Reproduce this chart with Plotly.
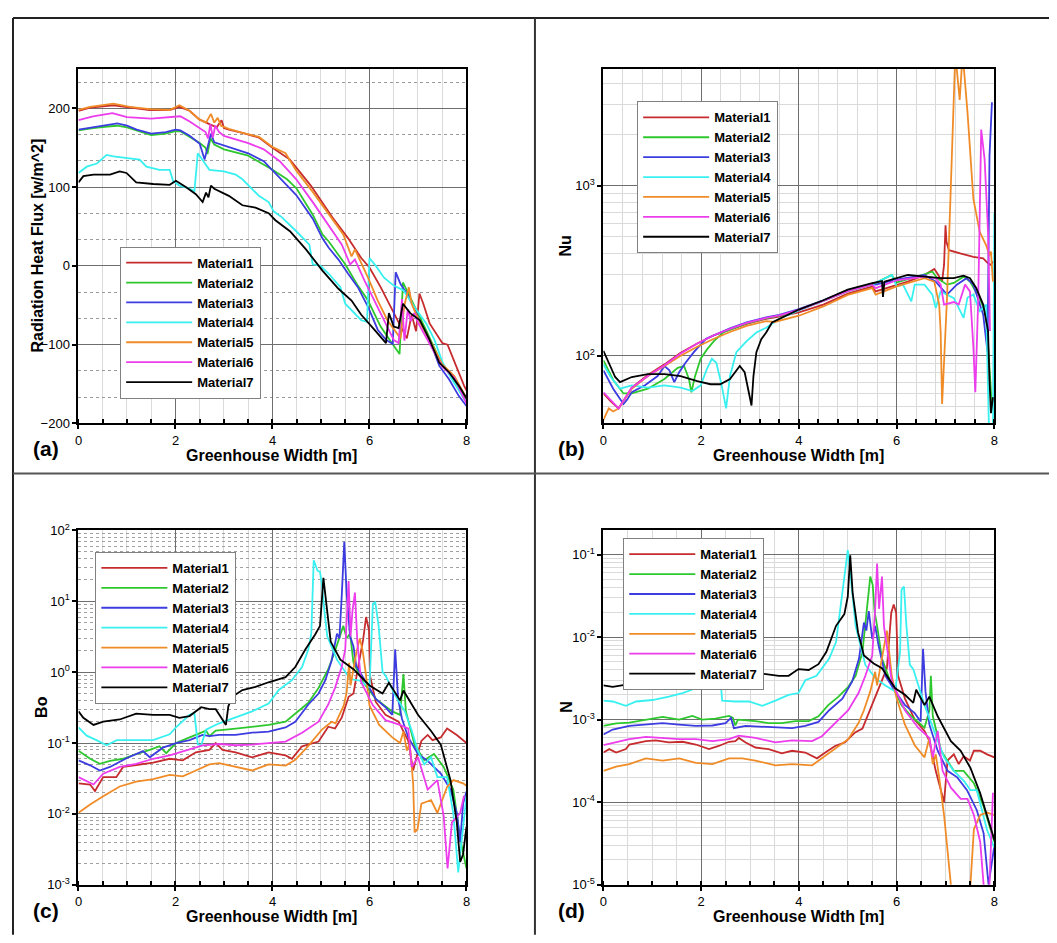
import plotly.graph_objects as go
import math

# Browser page keeps the default 8px body margin: the figure is sized to fit inside it.
PAGE_W, PAGE_H = 1057, 943
OFF = 8
FW, FH = PAGE_W - 2 * OFF, PAGE_H - 2 * OFF

materials = ["Material1", "Material2", "Material3", "Material4", "Material5", "Material6", "Material7"]
colors = ["#c62b2e", "#2ec82e", "#3c3ce0", "#38f0f0", "#f08c28", "#ec3cec", "#000000"]

# tick labels of the log axes
b_tickvals = [100, 1000]
b_ticktext = ["10<sup>2</sup>", "10<sup>3</sup>"]
c_tickvals = [0.001, 0.01, 0.1, 1, 10, 100]
c_ticktext = ["10<sup>-3</sup>", "10<sup>-2</sup>", "10<sup>-1</sup>", "10<sup>0</sup>", "10<sup>1</sup>", "10<sup>2</sup>"]
d_tickvals = [0.00001, 0.0001, 0.001, 0.01, 0.1]
d_ticktext = ["10<sup>-5</sup>", "10<sup>-4</sup>", "10<sup>-3</sup>", "10<sup>-2</sup>", "10<sup>-1</sup>"]

# ---------------- Panel (a): Radiation Heat Flux ----------------
a1_x = [0, 0.24, 0.72, 1.06, 1.47, 1.88, 2.08, 2.29, 2.49, 2.7, 2.85, 2.95, 3.0, 3.1, 3.38, 3.72, 4.0, 4.36, 4.79, 5.23, 5.56, 5.83, 6.0, 6.23, 6.5, 6.64, 6.77, 6.87, 6.96, 7.03, 7.11, 7.24, 7.5, 7.61, 7.78, 7.95, 8.0]
a1_y = [197, 201, 204, 201, 198, 198, 202, 197, 186, 180, 176, 185, 175, 173, 169, 163, 150, 135, 102, 62, 35, 10, -2, -27, -60, -75, -92, -62, -83, -35, -48, -73, -98, -100, -127, -152, -158]
a2_x = [0, 0.3, 0.6, 0.8, 1.0, 1.2, 1.5, 1.8, 2.0, 2.1, 2.3, 2.5, 2.62, 2.66, 2.72, 2.8, 3.0, 3.5, 4.0, 4.3, 4.5, 4.83, 5.03, 5.16, 5.5, 5.76, 5.97, 6.23, 6.45, 6.62, 6.69, 6.77, 6.97, 7.17, 7.5, 7.75, 8.0]
a2_y = [172, 175, 177, 178, 176, 172, 166, 168, 171, 171, 164, 156, 150, 142, 162, 154, 148, 140, 122, 110, 98, 65, 40, 31, 2, -25, -44, -77, -97, -112, -21, -31, -58, -82, -126, -145, -172]
a3_x = [0, 0.3, 0.6, 0.8, 1.0, 1.2, 1.5, 1.8, 2.0, 2.1, 2.3, 2.5, 2.6, 2.66, 2.73, 2.8, 3.0, 3.5, 3.82, 4.15, 4.49, 4.83, 5.03, 5.16, 5.36, 5.56, 5.76, 5.97, 6.17, 6.34, 6.48, 6.54, 6.64, 6.77, 6.91, 7.04, 7.24, 7.44, 7.64, 7.84, 8.0]
a3_y = [173, 176, 179, 181, 178, 173, 168, 170, 173, 172, 165, 155, 135, 150, 168, 157, 153, 143, 133, 112, 90, 60, 35, 23, 8, -10, -27, -52, -81, -94, -99, -8, -23, -35, -52, -71, -94, -127, -144, -165, -178]
a4_x = [0, 0.17, 0.38, 0.58, 0.72, 1.06, 1.26, 1.4, 1.67, 1.88, 1.95, 2.08, 2.25, 2.39, 2.46, 2.7, 3.0, 3.24, 3.38, 3.72, 3.92, 4.03, 4.19, 4.49, 4.76, 4.83, 4.99, 5.16, 5.4, 5.5, 5.63, 5.83, 5.95, 6.0, 6.13, 6.3, 6.5, 6.7, 6.97, 7.17, 7.34, 7.51, 7.7, 7.95, 8.0]
a4_y = [118, 126, 130, 141, 139, 137, 135, 126, 122, 122, 108, 102, 99, 95, 143, 122, 120, 116, 110, 89, 81, 69, 62, 44, 27, 2, 0, -10, -27, -48, -56, -69, -71, 10, 0, -15, -25, -31, -56, -73, -94, -123, -144, -169, -172]
a5_x = [0, 0.24, 0.72, 1.06, 1.47, 1.88, 2.08, 2.29, 2.49, 2.63, 2.73, 2.8, 2.87, 2.94, 3.1, 3.38, 3.72, 4.0, 4.27, 4.49, 4.83, 5.16, 5.46, 5.63, 5.7, 5.97, 6.17, 6.37, 6.57, 6.64, 6.72, 6.81, 6.87, 6.95, 7.07, 7.25, 7.5, 7.75, 8.0]
a5_y = [198, 202, 206, 202, 199, 198, 204, 197, 186, 182, 193, 182, 188, 178, 174, 169, 164, 151, 143, 121, 94, 65, 40, 12, 21, -15, -44, -69, -85, -92, -50, -27, -48, -60, -75, -95, -125, -140, -168]
a6_x = [0, 0.3, 0.7, 1.0, 1.5, 2.0, 2.1, 2.3, 2.5, 2.62, 2.67, 2.72, 2.77, 2.82, 2.9, 3.0, 3.5, 3.82, 4.15, 4.49, 4.83, 5.16, 5.43, 5.6, 5.7, 5.9, 6.1, 6.3, 6.5, 6.6, 6.67, 6.72, 6.79, 6.85, 6.92, 7.0, 7.3, 7.5, 7.75, 8.0]
a6_y = [185, 190, 194, 189, 187, 189, 190, 183, 175, 170, 162, 180, 163, 178, 170, 165, 156, 148, 133, 110, 81, 52, 27, 2, 8, -19, -44, -69, -94, -98, -42, -95, -55, -70, -60, -72, -105, -128, -142, -175]
a7_x = [0, 0.1, 0.31, 0.65, 0.85, 0.99, 1.19, 1.54, 1.88, 2.01, 2.22, 2.42, 2.56, 2.63, 2.68, 2.73, 2.8, 3.1, 3.38, 3.65, 3.92, 4.06, 4.36, 4.69, 5.03, 5.36, 5.63, 5.83, 6.1, 6.34, 6.4, 6.5, 6.6, 6.69, 6.84, 7.04, 7.24, 7.44, 7.64, 7.84, 8.0]
a7_y = [106, 114, 116, 116, 120, 118, 106, 104, 103, 108, 100, 91, 81, 93, 87, 102, 98, 89, 77, 74, 67, 58, 44, 21, -6, -29, -44, -62, -81, -98, -60, -77, -79, -48, -60, -69, -94, -123, -135, -152, -168]

# ---------------- Panel (b): Nu ----------------
b1_x = [0, 0.15, 0.31, 0.58, 0.91, 1.25, 1.58, 1.92, 2.26, 2.59, 2.93, 3.33, 3.6, 4.0, 4.5, 5.0, 5.5, 5.57, 6.0, 6.23, 6.57, 6.77, 6.83, 6.93, 6.97, 7.0, 7.02, 7.07, 7.3, 7.57, 7.77, 7.87, 7.93, 7.97]
b1_y = [60, 54, 49, 65, 77, 89, 104, 118, 132, 143, 154, 165, 170, 180, 200, 232, 255, 239, 262, 273, 299, 324, 306, 273, 342, 585, 467, 418, 400, 382, 374, 350, 342, 359]
b2_x = [0, 0.2, 0.41, 0.58, 0.91, 1.25, 1.52, 1.65, 1.75, 1.8, 1.87, 1.99, 2.12, 2.26, 2.45, 2.93, 3.33, 3.6, 4.0, 4.5, 5.0, 5.5, 5.9, 6.0, 6.57, 6.73, 6.83, 7.03, 7.17, 7.37, 7.5, 7.7, 7.83, 7.9, 7.95]
b2_y = [94, 72, 60, 60, 64, 73, 85, 87, 73, 61, 75, 96, 109, 122, 137, 155, 166, 172, 186, 210, 240, 262, 299, 270, 301, 313, 286, 262, 268, 292, 273, 218, 175, 90, 50]
b3_x = [0, 0.2, 0.41, 0.48, 0.58, 0.85, 1.11, 1.25, 1.35, 1.45, 1.55, 1.68, 1.85, 2.1, 2.59, 2.93, 3.33, 3.6, 4.0, 4.5, 5.0, 5.5, 5.57, 6.0, 6.57, 6.8, 7.03, 7.23, 7.43, 7.57, 7.77, 7.86, 7.9, 7.95]
b3_y = [82, 64, 52, 55, 61, 67, 76, 87, 82, 70, 80, 91, 105, 126, 145, 157, 168, 174, 188, 212, 243, 264, 262, 280, 299, 273, 229, 262, 286, 262, 175, 105, 1500, 3100]
b4_x = [0, 0.15, 0.34, 0.58, 0.91, 1.25, 1.58, 1.82, 1.99, 2.12, 2.22, 2.31, 2.42, 2.51, 2.59, 2.72, 2.93, 3.13, 3.33, 3.6, 4.0, 4.5, 5.0, 5.5, 5.77, 5.9, 6.0, 6.13, 6.3, 6.37, 6.57, 6.73, 6.8, 6.9, 7.17, 7.37, 7.45, 7.57, 7.7, 7.83, 7.89, 7.97, 8.0]
b4_y = [89, 75, 64, 67, 65, 67, 65, 62, 67, 84, 96, 91, 67, 49, 76, 105, 122, 137, 146, 165, 185, 210, 240, 262, 286, 299, 256, 262, 209, 262, 262, 229, 191, 239, 218, 167, 220, 229, 183, 200, 36, 36, 690]
b5_x = [0, 0.11, 0.2, 0.31, 0.58, 0.91, 1.25, 1.58, 1.92, 2.26, 2.59, 2.93, 3.33, 3.5, 4.0, 4.5, 5.0, 5.5, 5.57, 6.0, 6.57, 6.77, 6.87, 6.9, 6.93, 6.97, 7.03, 7.1, 7.2, 7.29, 7.35, 7.45, 7.57, 7.7, 7.83, 7.9, 7.93, 7.97]
b5_y = [42, 49, 47, 49, 64, 76, 87, 100, 113, 126, 138, 150, 160, 158, 172, 195, 228, 250, 229, 256, 286, 273, 200, 140, 52, 89, 218, 836, 6000, 3200, 6000, 2700, 836, 535, 447, 391, 410, 273]
b6_x = [0, 0.15, 0.31, 0.58, 0.91, 1.25, 1.58, 1.92, 2.26, 2.59, 2.93, 3.33, 3.6, 4.0, 4.5, 5.0, 5.5, 5.57, 6.0, 6.57, 6.8, 6.9, 6.97, 7.17, 7.27, 7.4, 7.5, 7.57, 7.61, 7.67, 7.73, 7.8, 7.87, 7.91]
b6_y = [61, 55, 49, 65, 76, 88, 103, 118, 132, 144, 156, 167, 173, 186, 210, 240, 262, 250, 278, 292, 286, 262, 200, 207, 200, 262, 239, 112, 61, 218, 2140, 1430, 535, 140]
b7_x = [0, 0.11, 0.24, 0.34, 0.58, 0.91, 1.25, 1.58, 1.92, 2.19, 2.39, 2.59, 2.79, 2.89, 2.98, 3.03, 3.07, 3.13, 3.23, 3.33, 3.45, 3.6, 4.0, 4.5, 5.0, 5.5, 5.7, 5.72, 5.75, 6.0, 6.23, 6.57, 6.9, 7.17, 7.37, 7.5, 7.63, 7.77, 7.87, 7.9, 7.93, 7.97]
b7_y = [107, 91, 75, 70, 75, 78, 78, 76, 71, 68, 68, 73, 87, 80, 58, 51, 76, 105, 125, 137, 157, 165, 187, 212, 245, 267, 275, 222, 273, 286, 299, 292, 286, 286, 296, 286, 250, 200, 140, 72, 46, 57]

# ---------------- Panel (c): Bo ----------------
c1_x = [0, 0.24, 0.34, 0.51, 0.78, 0.92, 1.19, 1.54, 1.88, 2.15, 2.42, 2.7, 2.83, 2.97, 3.24, 3.58, 3.92, 4.27, 4.4, 4.61, 4.95, 5.15, 5.29, 5.43, 5.57, 5.67, 5.77, 5.87, 5.93, 5.99, 6.01, 6.13, 6.33, 6.6, 6.8, 6.9, 6.97, 7.07, 7.2, 7.3, 7.47, 7.6, 7.8, 8.0]
c1_y = [0.027, 0.026, 0.021, 0.033, 0.033, 0.046, 0.049, 0.053, 0.06, 0.057, 0.074, 0.08, 0.1, 0.08, 0.074, 0.063, 0.074, 0.067, 0.06, 0.09, 0.105, 0.17, 0.16, 0.23, 0.45, 0.5, 1.23, 2.9, 6.0, 3.9, 0.9, 0.38, 0.25, 0.2, 0.107, 0.041, 0.063, 0.107, 0.13, 0.11, 0.12, 0.16, 0.13, 0.1]
c2_x = [0, 0.24, 0.44, 0.65, 0.92, 1.19, 1.47, 1.67, 1.81, 2.01, 2.29, 2.56, 2.63, 2.7, 2.83, 3.24, 3.58, 3.92, 4.27, 4.47, 4.74, 4.95, 5.15, 5.29, 5.4, 5.46, 5.53, 5.6, 5.67, 5.87, 6.13, 6.47, 6.63, 6.7, 6.75, 6.93, 7.13, 7.33, 7.53, 7.73, 7.87, 8.0]
c2_y = [0.078, 0.06, 0.051, 0.056, 0.06, 0.07, 0.08, 0.09, 0.072, 0.1, 0.12, 0.145, 0.15, 0.125, 0.15, 0.16, 0.17, 0.18, 0.2, 0.26, 0.37, 0.6, 1.1, 2.0, 3.5, 4.5, 3.0, 3.5, 1.36, 0.72, 0.42, 0.28, 0.25, 0.94, 0.28, 0.095, 0.057, 0.07, 0.046, 0.022, 0.0045, 0.0017]
c3_x = [0, 0.24, 0.44, 0.65, 0.99, 1.33, 1.47, 1.74, 2.01, 2.29, 2.56, 2.7, 2.9, 3.24, 3.58, 3.92, 4.27, 4.47, 4.74, 4.95, 5.09, 5.22, 5.33, 5.38, 5.43, 5.48, 5.53, 5.6, 5.67, 5.73, 5.93, 6.13, 6.33, 6.47, 6.53, 6.59, 6.67, 6.8, 7.0, 7.2, 7.47, 7.67, 7.8, 7.87, 7.93, 8.0]
c3_y = [0.057, 0.0485, 0.041, 0.046, 0.061, 0.077, 0.063, 0.086, 0.1, 0.11, 0.13, 0.125, 0.13, 0.13, 0.14, 0.145, 0.166, 0.2, 0.35, 0.5, 0.77, 1.46, 3.5, 3.0, 12.6, 69, 12.6, 3.2, 2.3, 1.2, 0.72, 0.42, 0.32, 0.25, 2.1, 0.42, 0.22, 0.12, 0.07, 0.056, 0.037, 0.022, 0.0103, 0.004, 0.014, 0.0207]
c4_x = [0, 0.17, 0.38, 0.58, 0.79, 1.19, 1.54, 1.88, 2.01, 2.29, 2.39, 2.46, 2.53, 2.63, 2.9, 3.24, 3.58, 3.92, 4.13, 4.4, 4.61, 4.74, 4.8, 4.85, 4.93, 4.98, 5.02, 5.07, 5.13, 5.33, 5.5, 5.6, 5.8, 6.0, 6.07, 6.12, 6.19, 6.27, 6.33, 6.53, 6.73, 6.87, 7.0, 7.13, 7.27, 7.4, 7.6, 7.73, 7.83, 7.9, 8.0]
c4_y = [0.166, 0.127, 0.109, 0.093, 0.11, 0.11, 0.11, 0.133, 0.166, 0.25, 0.265, 0.096, 0.093, 0.154, 0.19, 0.23, 0.28, 0.36, 0.56, 0.77, 1.18, 2.1, 3.5, 38, 27, 26, 17, 7.4, 3.2, 1.5, 0.99, 0.8, 0.76, 0.61, 9.2, 9.7, 4.4, 1.0, 0.9, 0.47, 0.28, 0.15, 0.077, 0.05, 0.063, 0.033, 0.033, 0.01, 0.0015, 0.004, 0.018]
c5_x = [0, 0.24, 0.51, 0.85, 1.19, 1.54, 1.88, 2.15, 2.42, 2.7, 2.9, 3.24, 3.58, 3.92, 4.27, 4.47, 4.74, 5.02, 5.22, 5.3, 5.47, 5.53, 5.58, 5.61, 5.67, 5.73, 5.8, 5.86, 5.92, 6.0, 6.2, 6.47, 6.63, 6.7, 6.77, 6.83, 6.9, 6.93, 6.99, 7.07, 7.27, 7.4, 7.6, 7.73, 7.93, 8.0]
c5_y = [0.0104, 0.0136, 0.0177, 0.0244, 0.0285, 0.031, 0.0355, 0.0338, 0.041, 0.05, 0.052, 0.046, 0.041, 0.05, 0.048, 0.058, 0.091, 0.155, 0.2, 0.19, 0.34, 0.52, 1.36, 0.65, 1.2, 1.9, 3.0, 2.0, 1.0, 0.34, 0.18, 0.12, 0.1, 0.145, 0.078, 0.1, 0.027, 0.0055, 0.006, 0.014, 0.0157, 0.0103, 0.024, 0.03, 0.027, 0.025]
c6_x = [0, 0.31, 0.51, 0.85, 1.19, 1.54, 1.88, 2.22, 2.56, 2.9, 3.24, 3.58, 3.92, 4.27, 4.61, 4.95, 5.15, 5.29, 5.43, 5.5, 5.57, 5.61, 5.65, 5.7, 5.75, 5.83, 6.07, 6.33, 6.63, 6.8, 6.87, 7.0, 7.2, 7.4, 7.53, 7.61, 7.7, 7.87, 7.95]
c6_y = [0.033, 0.026, 0.037, 0.046, 0.051, 0.06, 0.067, 0.078, 0.093, 0.097, 0.093, 0.095, 0.1, 0.105, 0.14, 0.2, 0.35, 0.6, 1.2, 2.1, 19.3, 3.2, 7.4, 13.3, 2.6, 0.72, 0.34, 0.21, 0.18, 0.16, 0.046, 0.063, 0.022, 0.03, 0.0093, 0.0017, 0.0076, 0.0103, 0.018]
c7_x = [0, 0.1, 0.31, 0.51, 0.85, 1.19, 1.54, 1.88, 2.08, 2.29, 2.53, 2.7, 2.83, 2.97, 3.04, 3.09, 3.17, 3.38, 3.65, 3.92, 4.27, 4.47, 4.68, 4.88, 4.98, 5.05, 5.1, 5.2, 5.4, 5.67, 6.0, 6.27, 6.4, 6.63, 6.7, 7.0, 7.27, 7.47, 7.67, 7.8, 7.87, 7.93, 8.0]
c7_y = [0.28, 0.227, 0.18, 0.2, 0.215, 0.26, 0.25, 0.25, 0.227, 0.24, 0.32, 0.3, 0.3, 0.21, 0.18, 0.33, 0.45, 0.56, 0.62, 0.72, 0.85, 1.18, 2.1, 3.4, 4.5, 21.4, 10, 2.7, 1.5, 1.1, 0.65, 0.5, 0.71, 0.4, 0.55, 0.25, 0.148, 0.095, 0.03, 0.0076, 0.0021, 0.0027, 0.0066]

# ---------------- Panel (d): N ----------------
d1_x = [0, 0.12, 0.26, 0.46, 0.53, 0.87, 1.07, 1.34, 1.62, 1.89, 2.16, 2.36, 2.57, 2.7, 2.77, 2.91, 3.11, 3.38, 3.65, 3.86, 4.13, 4.37, 4.54, 4.74, 4.94, 5.15, 5.3, 5.5, 5.6, 5.7, 5.8, 5.89, 5.94, 5.99, 6.03, 6.17, 6.37, 6.57, 6.67, 6.8, 6.9, 6.97, 7.04, 7.17, 7.27, 7.37, 7.5, 7.58, 7.71, 7.85, 8.0]
d1_y = [0.0004, 0.00044, 0.0004, 0.00044, 0.0005, 0.00055, 0.00056, 0.00053, 0.00054, 0.0005, 0.00044, 0.00048, 0.00054, 0.00055, 0.0006, 0.00053, 0.00046, 0.00044, 0.00039, 0.00042, 0.0004, 0.00034, 0.0004, 0.00048, 0.00053, 0.0007, 0.00078, 0.0015, 0.0021, 0.0029, 0.0042, 0.0197, 0.0248, 0.0197, 0.0034, 0.0018, 0.001, 0.00073, 0.00055, 0.00024, 0.00014, 0.0001, 0.00032, 0.00038, 0.00029, 0.00036, 0.00032, 0.00042, 0.00042, 0.00038, 0.00035]
d2_x = [0, 0.26, 0.53, 0.87, 1.21, 1.55, 1.82, 2.02, 2.29, 2.57, 2.65, 2.7, 2.75, 3.11, 3.38, 3.65, 3.93, 4.2, 4.4, 4.6, 4.81, 5.01, 5.16, 5.3, 5.4, 5.46, 5.51, 5.55, 5.6, 5.7, 5.87, 6.1, 6.3, 6.57, 6.67, 6.7, 6.74, 6.91, 7.17, 7.37, 7.58, 7.78, 8.0]
d2_y = [0.00084, 0.0009, 0.00092, 0.001, 0.00108, 0.001, 0.00111, 0.001, 0.00103, 0.00111, 0.00105, 0.00085, 0.001, 0.00096, 0.00091, 0.00091, 0.00096, 0.00096, 0.0011, 0.0015, 0.0019, 0.0025, 0.0034, 0.0066, 0.028, 0.054, 0.043, 0.02, 0.0137, 0.0055, 0.0029, 0.0015, 0.0011, 0.0008, 0.0013, 0.0034, 0.0011, 0.00042, 0.00024, 0.00024, 0.00017, 0.000089, 0.000033]
d3_x = [0, 0.19, 0.53, 0.87, 1.21, 1.55, 1.89, 2.23, 2.5, 2.61, 2.67, 2.91, 3.25, 3.59, 3.86, 4.13, 4.4, 4.62, 4.89, 5.09, 5.23, 5.33, 5.38, 5.43, 5.5, 5.56, 5.63, 5.77, 5.97, 6.17, 6.37, 6.49, 6.54, 6.59, 6.67, 6.84, 7.04, 7.24, 7.44, 7.64, 7.78, 7.88, 7.95, 8.0]
d3_y = [0.00066, 0.00076, 0.00084, 0.00087, 0.00091, 0.00087, 0.00084, 0.00085, 0.00091, 0.00105, 0.00079, 0.00084, 0.00082, 0.00079, 0.00079, 0.00084, 0.00094, 0.0013, 0.0018, 0.0029, 0.0055, 0.015, 0.012, 0.0207, 0.0095, 0.0137, 0.0079, 0.0034, 0.0022, 0.0015, 0.0012, 0.00095, 0.0072, 0.0022, 0.00087, 0.00042, 0.00024, 0.0002, 0.00014, 0.00008, 0.000042, 0.00001, 0.00002, 0.00003]
d4_x = [0, 0.19, 0.46, 0.67, 1.0, 1.34, 1.62, 1.89, 2.16, 2.4, 2.43, 2.7, 2.98, 3.25, 3.52, 3.79, 3.99, 4.13, 4.36, 4.62, 4.76, 4.83, 4.89, 5.0, 5.06, 5.16, 5.36, 5.56, 5.77, 5.97, 6.07, 6.1, 6.15, 6.2, 6.27, 6.34, 6.57, 6.77, 6.97, 7.17, 7.38, 7.51, 7.64, 7.85, 8.0]
d4_y = [0.0017, 0.00166, 0.00147, 0.00166, 0.00173, 0.0019, 0.0021, 0.0024, 0.0026, 0.0028, 0.0017, 0.00166, 0.00166, 0.00147, 0.0017, 0.002, 0.0021, 0.003, 0.0034, 0.0055, 0.0087, 0.018, 0.034, 0.113, 0.054, 0.0137, 0.0046, 0.0032, 0.0026, 0.0022, 0.0066, 0.0375, 0.041, 0.0137, 0.0046, 0.0041, 0.0015, 0.00073, 0.00035, 0.00024, 0.00018, 0.00014, 0.00014, 0.000046, 0.000028]
d5_x = [0, 0.26, 0.53, 0.87, 1.21, 1.55, 1.89, 2.23, 2.57, 2.84, 3.11, 3.52, 3.86, 4.27, 4.47, 4.74, 5.01, 5.22, 5.33, 5.46, 5.56, 5.6, 5.7, 5.8, 5.9, 6.0, 6.17, 6.37, 6.57, 6.67, 6.74, 6.8, 6.87, 6.97, 7.11, 7.2, 7.45, 7.51, 7.58, 7.71, 7.85, 8.0]
d5_y = [0.00024, 0.00027, 0.00029, 0.00034, 0.00032, 0.00034, 0.0003, 0.00029, 0.00034, 0.00034, 0.00032, 0.00028, 0.00029, 0.00028, 0.00034, 0.00044, 0.00058, 0.00091, 0.0013, 0.0022, 0.0038, 0.0026, 0.0055, 0.012, 0.0034, 0.0018, 0.00087, 0.00049, 0.00035, 0.0006, 0.00029, 0.00038, 0.0002, 0.00007, 0.00001, 0.000001, 0.000001, 0.00001, 0.000047, 0.00007, 0.000075, 0.00007]
d6_x = [0, 0.26, 0.53, 0.87, 1.21, 1.55, 1.89, 2.23, 2.57, 2.77, 3.11, 3.52, 3.86, 4.27, 4.47, 4.74, 5.01, 5.22, 5.36, 5.5, 5.56, 5.6, 5.64, 5.7, 5.74, 5.9, 6.17, 6.44, 6.67, 6.74, 6.84, 6.94, 7.11, 7.31, 7.45, 7.58, 7.71, 7.82, 7.88, 7.97]
d6_y = [0.00049, 0.00053, 0.00058, 0.00062, 0.0006, 0.00058, 0.00058, 0.00055, 0.00058, 0.00064, 0.0006, 0.00053, 0.00056, 0.00055, 0.00063, 0.00091, 0.0013, 0.0021, 0.0034, 0.006, 0.022, 0.078, 0.022, 0.054, 0.0137, 0.0029, 0.0013, 0.0008, 0.0006, 0.00035, 0.00073, 0.00024, 0.00015, 0.00011, 0.00011, 0.00007, 0.000033, 0.000005, 0.000005, 0.00013]
d7_x = [0, 0.19, 0.53, 0.87, 1.07, 1.41, 1.75, 2.02, 2.3, 2.46, 2.55, 2.63, 2.7, 2.84, 3.25, 3.59, 3.79, 3.99, 4.2, 4.4, 4.56, 4.76, 4.93, 5.0, 5.05, 5.1, 5.21, 5.33, 5.53, 5.7, 5.97, 6.17, 6.34, 6.4, 6.57, 6.67, 6.84, 7.11, 7.31, 7.51, 7.71, 7.85, 8.0]
d7_y = [0.0026, 0.0025, 0.0027, 0.0029, 0.0032, 0.0033, 0.0033, 0.0032, 0.0036, 0.004, 0.0044, 0.0039, 0.0033, 0.0034, 0.0036, 0.0034, 0.0034, 0.0041, 0.004, 0.0047, 0.0066, 0.0137, 0.019, 0.031, 0.098, 0.034, 0.0114, 0.006, 0.0048, 0.0042, 0.0024, 0.002, 0.0016, 0.0023, 0.0015, 0.0019, 0.0011, 0.00055, 0.00042, 0.00026, 0.000128, 0.000068, 0.000035]

panel_a = [(a1_x, a1_y), (a2_x, a2_y), (a3_x, a3_y), (a4_x, a4_y), (a5_x, a5_y), (a6_x, a6_y), (a7_x, a7_y)]
panel_b = [(b1_x, b1_y), (b2_x, b2_y), (b3_x, b3_y), (b4_x, b4_y), (b5_x, b5_y), (b6_x, b6_y), (b7_x, b7_y)]
panel_c = [(c1_x, c1_y), (c2_x, c2_y), (c3_x, c3_y), (c4_x, c4_y), (c5_x, c5_y), (c6_x, c6_y), (c7_x, c7_y)]
panel_d = [(d1_x, d1_y), (d2_x, d2_y), (d3_x, d3_y), (d4_x, d4_y), (d5_x, d5_y), (d6_x, d6_y), (d7_x, d7_y)]

FONT = "Arial, Liberation Sans, sans-serif"

# screen pixel -> paper coordinate (figure sits at OFF,OFF on the page)
def px_x(p):
    return (p - OFF) / FW

def px_y(p):
    return 1 - (p - OFF) / FH

fig = go.Figure()

panels = [
    (panel_a, "x", "y", "legend"),
    (panel_b, "x2", "y2", "legend2"),
    (panel_c, "x3", "y3", "legend3"),
    (panel_d, "x4", "y4", "legend4"),
]
for data, xa, ya, lg in panels:
    for i, (xs, ys) in enumerate(data):
        fig.add_trace(go.Scatter(
            x=xs, y=ys, mode="lines", name=materials[i],
            line=dict(color=colors[i], width=1.8),
            xaxis=xa, yaxis=ya, legend=lg, showlegend=True,
        ))

left_x = (75, 466)
right_x = (604, 998)
top_y = (61, 422)
bot_y = (531, 892)

MAJOR_GRID = "#6e6e6e"
MINOR_GRID = "#dadada"
TICKFONT = dict(family=FONT, size=13, color="black")

def xaxis_cfg(xr, anchor, minor_step):
    return dict(
        domain=[px_x(xr[0]), px_x(xr[1])], anchor=anchor, range=[0, 8],
        dtick=2, tick0=0, showgrid=True, gridcolor=MAJOR_GRID, gridwidth=1,
        showline=True, linecolor="black", linewidth=2, mirror=True,
        ticks="outside", ticklen=4, tickwidth=1.5, tickcolor="black",
        tickfont=TICKFONT,
        minor=dict(dtick=minor_step, tick0=0, showgrid=True, gridcolor=MINOR_GRID,
                   gridwidth=1, ticks="inside", ticklen=4, tickcolor="black"),
        zeroline=False,
    )

def yaxis_cfg(yr, anchor, **kw):
    cfg = dict(
        domain=[px_y(yr[1]), px_y(yr[0])], anchor=anchor,
        showgrid=True, gridcolor=MAJOR_GRID, gridwidth=1,
        showline=True, linecolor="black", linewidth=2, mirror=True,
        ticks="outside", ticklen=4, tickwidth=1.5, tickcolor="black",
        tickfont=TICKFONT, zeroline=False,
    )
    cfg.update(kw)
    return cfg

fig.update_layout(
    xaxis=xaxis_cfg(left_x, "y", 0.5),
    xaxis2=xaxis_cfg(right_x, "y2", 0.4),
    xaxis3=xaxis_cfg(left_x, "y3", 0.5),
    xaxis4=xaxis_cfg(right_x, "y4", 0.5),
    yaxis=yaxis_cfg(top_y, "x", range=[-200, 250], dtick=100, tick0=0,
                    minor=dict(dtick=100 / 3, tick0=-200, showgrid=True, gridcolor="#9a9a9a",
                               griddash="dot", gridwidth=1, ticks="")),
    yaxis2=yaxis_cfg(top_y, "x2", type="log", range=[math.log10(40), math.log10(4860)],
                     tickmode="array", tickvals=b_tickvals, ticktext=b_ticktext,
                     minor=dict(dtick="D1", showgrid=True, gridcolor=MINOR_GRID, gridwidth=1, ticks="")),
    yaxis3=yaxis_cfg(bot_y, "x3", type="log", range=[-3, 2],
                     tickmode="array", tickvals=c_tickvals, ticktext=c_ticktext,
                     minor=dict(dtick="D1", showgrid=True, gridcolor="#a0a0a0", griddash="dot",
                                gridwidth=1, ticks="")),
    yaxis4=yaxis_cfg(bot_y, "x4", type="log", range=[-5, math.log10(0.196)],
                     tickmode="array", tickvals=d_tickvals, ticktext=d_ticktext,
                     minor=dict(dtick="D1", showgrid=True, gridcolor=MINOR_GRID, gridwidth=1, ticks="")),
)

def legend_cfg(lx, ly):
    return dict(
        x=px_x(lx), y=px_y(ly), xanchor="left", yanchor="top",
        bgcolor="white", bordercolor="#808080", borderwidth=1,
        font=dict(family=FONT, size=13, color="black", weight="bold"),
        itemwidth=66, tracegroupgap=0, traceorder="normal",
    )

fig.update_layout(
    legend=legend_cfg(117, 242),
    legend2=legend_cfg(638, 94),
    legend3=legend_cfg(92, 553),
    legend4=legend_cfg(624, 539),
)

annotations = []
def ann(text, xp, yp, size, angle=0):
    annotations.append(dict(
        text=text, x=px_x(xp), y=px_y(yp), xref="paper", yref="paper",
        xanchor="center", yanchor="middle", showarrow=False, textangle=angle,
        font=dict(family=FONT, size=size, color="black", weight="bold"),
    ))

ann("Greenhouse Width [m]", 270, 455, 16)
ann("Greenhouse Width [m]", 801, 455, 16)
ann("Greenhouse Width [m]", 270, 924, 16)
ann("Greenhouse Width [m]", 801, 924, 16)
ann("Radiation Heat Flux [w/m^2]", 34, 241, 16, -90)
ann("Nu", 566, 241, 16, -90)
ann("Bo", 37, 711, 16, -90)
ann("N", 566, 711, 16, -90)
ann("(a)", 42, 448, 21)
ann("(b)", 572, 448, 21)
ann("(c)", 42, 918, 21)
ann("(d)", 572, 918, 21)

def line(x0, y0, x1, y1, color, width):
    return dict(type="line", xref="paper", yref="paper",
                x0=px_x(x0), y0=px_y(y0), x1=px_x(x1), y1=px_y(y1),
                line=dict(color=color, width=width), layer="above")

shapes = [
    line(9, 9, PAGE_W, 9, "#222222", 2),
    line(9, 9, 9, PAGE_H, "#222222", 2),
    line(535, 9, 535, PAGE_H, "#333333", 2),
    line(9, 473, PAGE_W, 473, "#555555", 2),
]

fig.update_layout(
    width=FW, height=FH, autosize=False,
    margin=dict(l=0, r=0, t=0, b=0),
    paper_bgcolor="white", plot_bgcolor="white",
    annotations=annotations, shapes=shapes,
    font=dict(family=FONT, color="black"),
)

fig.write_html("out.html", config={"displayModeBar": False})
